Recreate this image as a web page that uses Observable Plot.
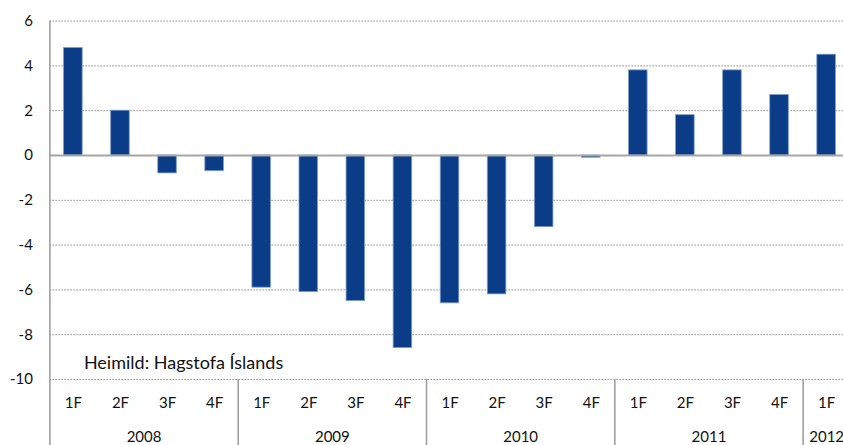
<!DOCTYPE html>
<html>
<head>
<meta charset="utf-8">
<script src="https://cdn.jsdelivr.net/npm/d3@7"></script>
<script src="https://cdn.jsdelivr.net/npm/@observablehq/plot@0.6"></script>
<style>
  html, body { margin: 0; padding: 0; background: #fff; overflow: hidden; }
  #chart svg { overflow: hidden; display: block; }
</style>
</head>
<body>
<div id="chart"></div>
<script>
const quarters = ["1F","2F","3F","4F","1F","2F","3F","4F","1F","2F","3F","4F","1F","2F","3F","4F","1F"];
const years    = ["2008","2008","2008","2008","2009","2009","2009","2009","2010","2010","2010","2010","2011","2011","2011","2011","2012"];
const values   = [4.8, 2.0, -0.8, -0.7, -5.9, -6.1, -6.5, -8.6, -6.6, -6.2, -3.2, -0.1, 3.8, 1.8, 3.8, 2.7, 4.5];
const yTicks   = [-10, -8, -6, -4, -2, 0, 2, 4, 6];
const source   = "Heimild: Hagstofa Íslands";

const data = values.map((v, i) => ({i, q: quarters[i], year: years[i], v}));
const yearNames = Array.from(new Set(years));
const yearGroups = yearNames.map(y => {
  const idx = data.filter(d => d.year === y).map(d => d.i);
  return {year: y, start: d3.min(idx), end: d3.max(idx) + 1};
});
const n = values.length;

const font = "Lato, 'Open Sans', sans-serif";

const chart = Plot.plot({
  width: 843,
  height: 445,
  marginLeft: 49.4,
  marginRight: 843 - 849.7,
  marginTop: 20.6,
  marginBottom: 66,
  style: {fontFamily: font, fontSize: "15px", color: "#111", background: "#fff"},
  x: {type: "linear", domain: [0, n], axis: null},
  y: {domain: [-10, 6], axis: null},
  marks: [
    // dotted gridlines
    Plot.ruleY(yTicks.filter(t => t !== 0), {x1: 0, x2: n, stroke: "#8c8c8c", strokeWidth: 1, strokeDasharray: "1.5,1.5"}),
    // bars
    Plot.rectY(data, {x1: d => d.i, x2: d => d.i + 1, y1: 0, y2: "v", insetLeft: 14.2, insetRight: 14.3,
      fill: "#0b3c87", stroke: "#7f9fcc", strokeWidth: 0.8}),
    // zero line
    Plot.ruleY([0], {x1: 0, x2: n, stroke: "#a6a6a6", strokeWidth: 2}),
    // left axis line
    Plot.ruleX([0], {y1: 6, y2: -13, stroke: "#9a9a9a", strokeWidth: 1.5}),
    // year separators
    Plot.ruleX(yearGroups.slice(1), {x: "start", y1: -10, y2: -13, stroke: "#9a9a9a", strokeWidth: 1.5}),
    // y tick labels
    Plot.text(yTicks, {x: 0, y: d => d, text: d => String(d), textAnchor: "end", dx: -17, fontSize: 15, fill: "#111"}),
    // quarter labels
    Plot.text(data, {x: d => d.i + 0.5, y: -10, text: "q", dy: 24, fontSize: 15, fill: "#111"}),
    // year labels
    Plot.text(yearGroups, {x: d => (d.start + d.end) / 2, y: -10, text: "year", dy: 58, fontSize: 15, fill: "#111"}),
    // source
    Plot.text([source], {x: 0, y: -10, text: d => d, textAnchor: "start", dx: 34, dy: -16, fontSize: 18, fill: "#111"})
  ]
});
document.getElementById("chart").appendChild(chart);
</script>
</body>
</html>
